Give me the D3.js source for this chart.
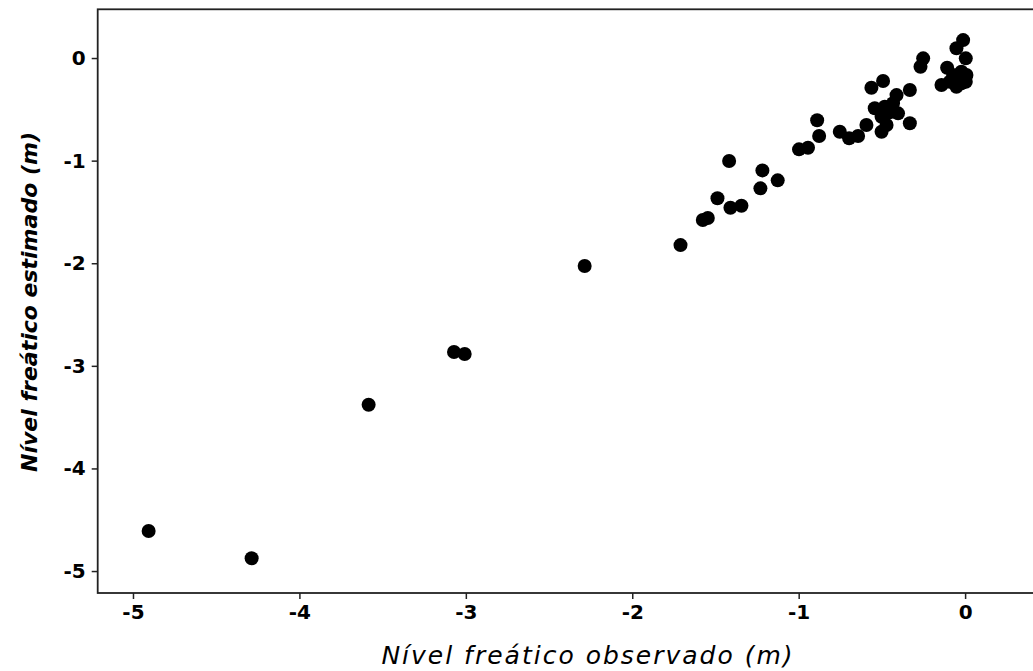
<!DOCTYPE html>
<html>
<head>
<meta charset="utf-8">
<script src="https://cdn.jsdelivr.net/npm/d3@7"></script>
<style>
  html, body { margin: 0; padding: 0; background: #fff; }
  svg { display: block; }
  .tick text { font-family: "DejaVu Sans", Verdana, sans-serif; font-weight: bold; font-size: 20px; fill: #000; }
</style>
</head>
<body>
<svg id="chart" width="1033" height="671"></svg>
<script>
// Observed vs. estimated water table depth (m)
const observed = [
  -4.906, -4.287, -3.584, -3.071, -3.007, -2.286, -1.710, -1.576, -1.546, -1.488,
  -1.418, -1.410, -1.344, -1.230, -1.218, -1.126, -0.998, -0.944, -0.889, -0.877,
  -0.753, -0.697, -0.643, -0.593, -0.563, -0.493, -0.543, -0.483, -0.502, -0.453,
  -0.403, -0.472, -0.502, -0.412, -0.332, -0.332, -0.252, -0.268, -0.012, -0.052,
   0.004, -0.108, -0.142, -0.072, -0.022,  0.008, -0.052,  0.004, -0.092, -0.022,
  -0.433
];
const estimated = [
  -4.610, -4.876, -3.379, -2.865, -2.885, -2.027, -1.823, -1.579, -1.559, -1.367,
  -1.004, -1.459, -1.440, -1.270, -1.095, -1.192, -0.890, -0.874, -0.607, -0.760,
  -0.718, -0.783, -0.760, -0.653, -0.289, -0.224, -0.490, -0.475, -0.572, -0.529,
  -0.539, -0.653, -0.718, -0.361, -0.312, -0.636, -0.003, -0.085,  0.175,  0.095,
  -0.003, -0.095, -0.263, -0.166, -0.134, -0.166, -0.280, -0.231, -0.231, -0.247,
  -0.441
];
const xTicks = [-5, -4, -3, -2, -1, 0];
const yTicks = [-5, -4, -3, -2, -1, 0];
const xTitle = "Nível freático observado (m)";
const yTitle = "Nível freático estimado (m)";

const svg = d3.select("#chart");
const plotLeft = 97.7, plotRight = 1040, plotTop = 9.3, plotBottom = 593;

const x = d3.scaleLinear().domain([-5.212, 0.45]).range([plotLeft, plotRight]);
const y = d3.scaleLinear().domain([-5.214, 0.475]).range([plotBottom, plotTop]);

const fmt = d => String(d);

// axes
const gx = svg.append("g")
  .attr("transform", `translate(0,${plotBottom})`)
  .call(d3.axisBottom(x).tickValues(xTicks).tickFormat(fmt).tickSize(6).tickPadding(6));
const gy = svg.append("g")
  .attr("transform", `translate(${plotLeft},0)`)
  .call(d3.axisLeft(y).tickValues(yTicks).tickFormat(fmt).tickSize(6).tickPadding(6));
[gx, gy].forEach(g => {
  g.select(".domain").remove();
  g.selectAll(".tick line").attr("stroke", "#222").attr("stroke-width", 1.5);
});

// plot frame
svg.append("rect")
  .attr("x", plotLeft).attr("y", plotTop)
  .attr("width", plotRight - plotLeft).attr("height", plotBottom - plotTop)
  .attr("fill", "none").attr("stroke", "#222").attr("stroke-width", 1.8);

// points
svg.append("g")
  .selectAll("circle")
  .data(observed.map((v, i) => [v, estimated[i]]))
  .join("circle")
  .attr("cx", d => x(d[0]))
  .attr("cy", d => y(d[1]))
  .attr("r", 7)
  .attr("fill", "#000");

// axis titles
svg.append("text")
  .attr("x", 588)
  .attr("y", 664)
  .attr("text-anchor", "middle")
  .attr("font-family", "'DejaVu Sans', sans-serif")
  .attr("font-style", "italic")
  .attr("font-size", 25)
  .attr("letter-spacing", 2)
  .text(xTitle);

svg.append("text")
  .attr("transform", `translate(37,302) rotate(-90)`)
  .attr("text-anchor", "middle")
  .attr("font-family", "'DejaVu Sans', sans-serif")
  .attr("font-style", "italic")
  .attr("font-weight", "bold")
  .attr("font-size", 22)
  .text(yTitle);
</script>
</body>
</html>
